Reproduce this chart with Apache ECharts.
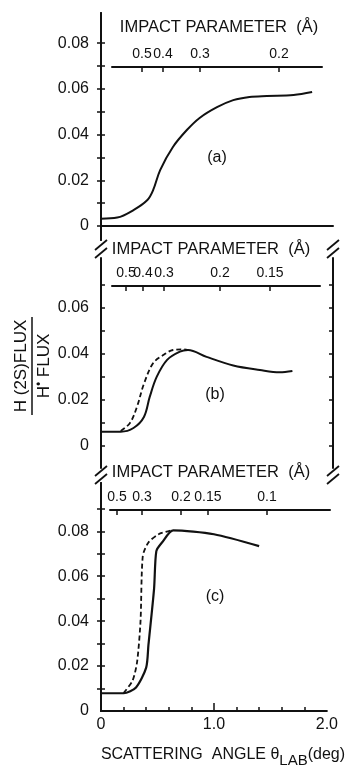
<!DOCTYPE html>
<html>
<head>
<meta charset="utf-8">
<script src="https://cdn.jsdelivr.net/npm/echarts@6/dist/echarts.min.js"></script>
<style>
html,body{margin:0;padding:0;background:#fff;}
#chart{width:347px;height:769px;}
</style>
</head>
<body>
<div id="chart"></div>
<script>
// ---- data (scattering angle in deg, H(2S)/H0 flux ratio) ----
var angleA = [0, 0.14, 0.28, 0.40, 0.45, 0.51, 0.62, 0.74, 0.85, 1.0, 1.14, 1.28, 1.43, 1.66, 1.82];
var fluxA  = [0.0032, 0.0037, 0.007, 0.0114, 0.0158, 0.0245, 0.0346, 0.042, 0.0473, 0.052, 0.0551, 0.0565, 0.0569, 0.0573, 0.0586];

var angleBSolid = [0, 0.17, 0.28, 0.37, 0.42, 0.48, 0.57, 0.68, 0.75, 0.91, 1.14, 1.37, 1.54, 1.65];
var fluxBSolid  = [0.0062, 0.0062, 0.0078, 0.0126, 0.0213, 0.030, 0.0374, 0.041, 0.0417, 0.0387, 0.035, 0.033, 0.032, 0.0326];
var angleBDash  = [0.17, 0.25, 0.31, 0.37, 0.45, 0.54, 0.62, 0.71, 0.75];
var fluxBDash   = [0.0065, 0.010, 0.017, 0.027, 0.036, 0.0396, 0.0417, 0.042, 0.0417];

var angleCSolid = [0, 0.2, 0.31, 0.40, 0.42, 0.47, 0.49, 0.54, 0.64, 1.0, 1.40];
var fluxCSolid  = [0.0079, 0.0079, 0.0105, 0.0193, 0.0294, 0.0545, 0.0712, 0.075, 0.0804, 0.0787, 0.0734];
var angleCDash  = [0.2, 0.28, 0.32, 0.35, 0.37, 0.42, 0.51, 0.62];
var fluxCDash   = [0.008, 0.0136, 0.022, 0.04, 0.069, 0.075, 0.0787, 0.0804];

// impact parameter scales (Å) and the scattering angles they sit at
var impactLabelsA = ['0.5', '0.4', '0.3', '0.2'];
var impactAnglesA = [0.353, 0.534, 0.853, 1.534];
var impactLabelsB = ['0.5', '0.4', '0.3', '0.2', '0.15'];
var impactAnglesB = [0.216, 0.362, 0.543, 1.026, 1.457];
var impactLabelsC = ['0.5', '0.3', '0.2', '0.15', '0.1'];
var impactAnglesC = [0.138, 0.353, 0.69, 0.922, 1.431];

var yLabelsAC = [0, 0.02, 0.04, 0.06, 0.08];
var yLabelsB  = [0, 0.02, 0.04, 0.06];
var yTicksA = [0, 0.01, 0.02, 0.03, 0.04, 0.05, 0.06, 0.07, 0.08];
var yTicksB = [0, 0.01, 0.02, 0.03, 0.04, 0.05, 0.06, 0.07];
var yTicksC = [0.01, 0.02, 0.03, 0.04, 0.05, 0.06, 0.07, 0.08, 0.09];
var xLabels = [0, 1, 2];
var xMinorTicks = [0.2, 0.4, 0.6, 0.8, 1.2, 1.4, 1.6, 1.8];
var xMajorTicks = [1];

function pairs(xs, ys){ return xs.map(function(x,i){ return [x, ys[i]]; }); }

var FONT = 'Liberation Sans, Arial, sans-serif';
var INK = '#111';
var lineStyle = {color: INK, width: 2};

function yAxisPair(grid, min, max, labels, ticks){
  return [
    {type:'value', gridIndex:grid, position:'left', min:min, max:max,
     splitLine:{show:false}, axisLine:{show:true, lineStyle:lineStyle},
     axisTick:{show:true, inside:true, length:4, customValues:ticks, lineStyle:{color:INK, width:1.5}},
     axisLabel:{show:true, customValues:labels, margin:12, color:INK, fontFamily:FONT, fontSize:16,
       hideOverlap:false, interval:0,
       formatter:function(v){ return Math.abs(v)<1e-9 ? '0' : v.toFixed(2); }}},
    {type:'value', gridIndex:grid, position:'right', min:min, max:max,
     splitLine:{show:false}, axisLine:{show:true, lineStyle:lineStyle},
     axisTick:{show:true, inside:true, length:4, customValues:ticks, lineStyle:{color:INK, width:1.5}},
     axisLabel:{show:false}}
  ];
}

function labelFor(angles, labels){
  return function(v){
    var best=0, d=1e9;
    for (var i=0;i<angles.length;i++){ var dd=Math.abs(angles[i]-v); if(dd<d){d=dd;best=i;} }
    return labels[best];
  };
}
function pick(arr, parity){ return arr.filter(function(_, i){ return i % 2 === parity; }); }

// Two axes per impact scale: one draws line, ticks, even labels + name; the other only odd labels
// (split so that closely spaced labels are not dropped by overlap hiding)
function impactAxes(grid, min, max, angles, labels, nameGap, namePad){
  var common = {type:'value', gridIndex:grid, position:'top', min:min, max:max, splitLine:{show:false}};
  var lab = {show:true, margin:5, color:INK, fontFamily:FONT, fontSize:14, hideOverlap:false, interval:0,
             formatter:labelFor(angles, labels)};
  var a1 = Object.assign({}, common, {
    axisLine:{show:true, lineStyle:lineStyle},
    axisTick:{show:true, inside:true, length:5, interval:0, customValues:angles, lineStyle:{color:INK, width:1.5}},
    axisLabel:Object.assign({}, lab, {customValues:pick(angles, 0)}),
    name:'IMPACT PARAMETER  (Å)', nameLocation:'middle', nameGap:nameGap,
    nameTextStyle:{color:INK, fontFamily:FONT, fontSize:16.5, padding:namePad}
  });
  var a2 = Object.assign({}, common, {
    axisLine:{show:false}, axisTick:{show:false},
    axisLabel:Object.assign({}, lab, {customValues:pick(angles, 1)})
  });
  return [a1, a2];
}

var chart = echarts.init(document.getElementById('chart'), null, {renderer:'canvas'});

var option = {
  backgroundColor:'#fff',
  animation:false,
  grid:[
    {left:101, top:13, width:232, height:227},
    {left:101, top:258, width:232, height:210},
    {left:101, top:483, width:232, height:231},
    {left:112, top:66, width:210, height:1},
    {left:112, top:285, width:208, height:1},
    {left:110, top:509, width:220, height:1}
  ],
  xAxis:[
    {type:'value', gridIndex:0, min:0, max:2, show:false},
    {type:'value', gridIndex:0, min:0, max:2, position:'top', axisLine:{show:true, lineStyle:lineStyle},
     axisTick:{show:false}, axisLabel:{show:false}, splitLine:{show:false}},
    {type:'value', gridIndex:1, min:0, max:2, show:false},
    {type:'value', gridIndex:2, min:0, max:2, position:'bottom',
     axisLine:{show:true, lineStyle:lineStyle}, splitLine:{show:false},
     axisTick:{show:true, inside:true, length:4, interval:0, customValues:xMinorTicks, lineStyle:{color:INK, width:1.5}},
     axisLabel:{show:true, customValues:xLabels, margin:6, color:INK, fontFamily:FONT, fontSize:16, interval:0,
       formatter:function(v){ return v===0 ? '0' : v.toFixed(1); }},
     name:'{t|SCATTERING  ANGLE θ}{s|LAB}{t|(deg)}', nameLocation:'middle', nameGap:30,
     nameTextStyle:{padding:[0,0,0,18], rich:{
       t:{color:INK, fontFamily:FONT, fontSize:16},
       s:{color:INK, fontFamily:FONT, fontSize:15, padding:[12,0,0,0]}}}},
    {type:'value', gridIndex:2, min:0, max:2, position:'bottom',
     axisLine:{show:false}, splitLine:{show:false}, axisLabel:{show:false},
     axisTick:{show:true, inside:true, length:8, customValues:xMajorTicks, lineStyle:{color:INK, width:1.5}}}
  ].concat(
    impactAxes(3, (112-101)/116, (322-101)/116, impactAnglesA, impactLabelsA, 30, [0,0,0,4]),
    impactAxes(4, (112-101)/116, (320-101)/116, impactAnglesB, impactLabelsB, 27, [0,10,0,0]),
    impactAxes(5, (110-101)/116, (330-101)/116, impactAnglesC, impactLabelsC, 28, [0,18,0,0])
  ),
  yAxis: [].concat(
    yAxisPair(0, -0.0061, 0.0932, yLabelsAC, yTicksA),
    yAxisPair(1, -0.0096, 0.0817, yLabelsB, yTicksB),
    yAxisPair(2, 0, 0.1015, yLabelsAC, yTicksC),
    [{type:'value', gridIndex:3, show:false}, {type:'value', gridIndex:4, show:false}, {type:'value', gridIndex:5, show:false}]
  ),
  series:[
    {type:'line', xAxisIndex:0, yAxisIndex:0, data:pairs(angleA, fluxA), smooth:0.35,
     showSymbol:false, lineStyle:{color:INK, width:2}},
    {type:'line', xAxisIndex:2, yAxisIndex:2, data:pairs(angleBSolid, fluxBSolid), smooth:0.35,
     showSymbol:false, lineStyle:{color:INK, width:2}},
    {type:'line', xAxisIndex:2, yAxisIndex:2, data:pairs(angleBDash, fluxBDash), smooth:0.35,
     showSymbol:false, lineStyle:{color:INK, width:1.8, type:[5,3]}},
    {type:'line', xAxisIndex:3, yAxisIndex:4, data:pairs(angleCSolid, fluxCSolid), smooth:0.25,
     showSymbol:false, lineStyle:{color:INK, width:2.2}},
    {type:'line', xAxisIndex:3, yAxisIndex:4, data:pairs(angleCDash, fluxCDash), smooth:0.25,
     showSymbol:false, lineStyle:{color:INK, width:1.8, type:[5,3]}}
  ],
  graphic:[
    // panel letters
    {type:'text', x:217, y:158, style:{text:'(a)', font:'16px ' + FONT, fill:INK, align:'center', verticalAlign:'middle'}},
    {type:'text', x:215, y:395, style:{text:'(b)', font:'16px ' + FONT, fill:INK, align:'center', verticalAlign:'middle'}},
    {type:'text', x:215, y:597, style:{text:'(c)', font:'16px ' + FONT, fill:INK, align:'center', verticalAlign:'middle'}},
    // axis breaks
    {type:'line', shape:{x1:95, y1:250, x2:107, y2:240}, style:{stroke:INK, lineWidth:1.8}},
    {type:'line', shape:{x1:95, y1:258, x2:107, y2:248}, style:{stroke:INK, lineWidth:1.8}},
    {type:'line', shape:{x1:327, y1:250, x2:339, y2:240}, style:{stroke:INK, lineWidth:1.8}},
    {type:'line', shape:{x1:327, y1:258, x2:339, y2:248}, style:{stroke:INK, lineWidth:1.8}},
    {type:'line', shape:{x1:95, y1:476, x2:107, y2:466}, style:{stroke:INK, lineWidth:1.8}},
    {type:'line', shape:{x1:95, y1:484, x2:107, y2:474}, style:{stroke:INK, lineWidth:1.8}},
    {type:'line', shape:{x1:327, y1:476, x2:339, y2:466}, style:{stroke:INK, lineWidth:1.8}},
    {type:'line', shape:{x1:327, y1:484, x2:339, y2:474}, style:{stroke:INK, lineWidth:1.8}},
    // y-axis title as a fraction
    {type:'text', x:21, y:366, rotation:Math.PI/2,
     style:{text:'H (2S)FLUX', font:'17px ' + FONT, fill:INK, align:'center', verticalAlign:'middle'}},
    {type:'line', shape:{x1:32, y1:317, x2:32, y2:415}, style:{stroke:INK, lineWidth:1.5}},
    {type:'text', x:44, y:366, rotation:Math.PI/2,
     style:{text:'{h|H}{s|•}{h| FLUX}', align:'center', verticalAlign:'middle',
       rich:{h:{font:'17px ' + FONT, fill:INK}, s:{font:'12px ' + FONT, fill:INK, padding:[0,0,8,0]}}}}
  ]
};
chart.setOption(option);
</script>
</body>
</html>
